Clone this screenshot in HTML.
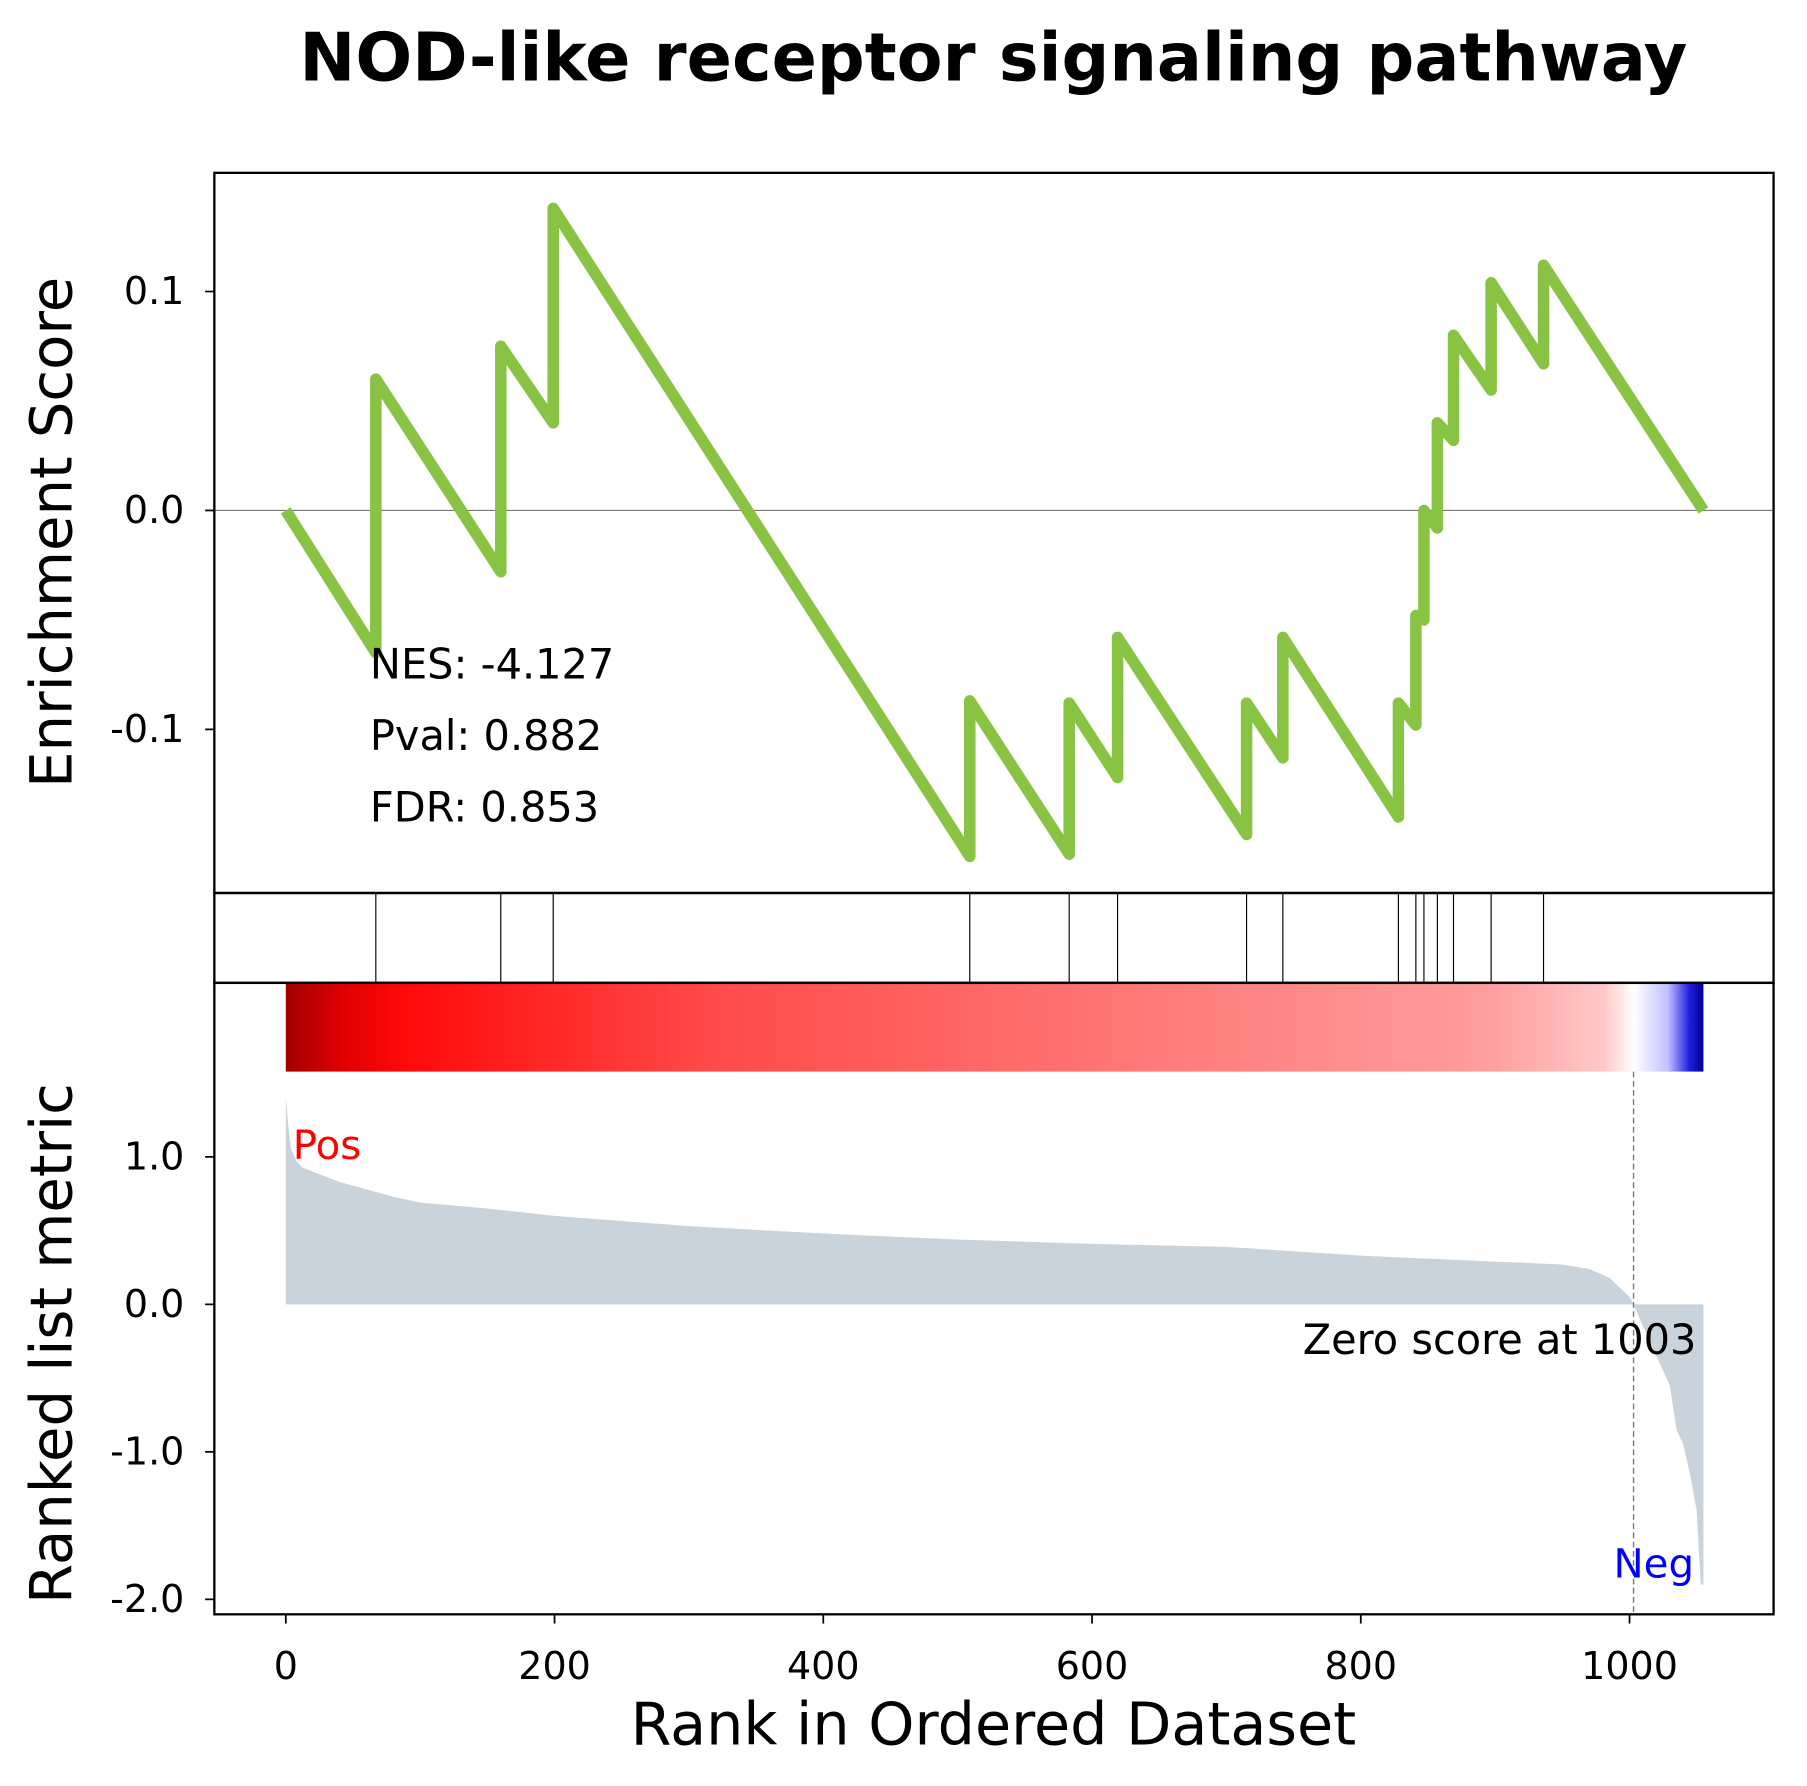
<!DOCTYPE html>
<html><head><meta charset="utf-8"><style>body{margin:0;background:#fff}svg{display:block}text{font-family:"DejaVu Sans","Liberation Sans",sans-serif}</style></head>
<body>
<svg id="chart" width="1807" height="1786" viewBox="0 0 1568 1550" preserveAspectRatio="none" xmlns="http://www.w3.org/2000/svg">
<defs>
<linearGradient id="cbar" x1="0" x2="1" y1="0" y2="0">
<stop offset="0" stop-color="#a00000"/><stop offset="0.04" stop-color="#e00000"/><stop offset="0.085" stop-color="#ff0a0a"/>
<stop offset="0.3" stop-color="#ff4a4a"/><stop offset="0.6" stop-color="#ff7878"/><stop offset="0.85" stop-color="#ff9e9e"/>
<stop offset="0.93" stop-color="#ffc8c8"/><stop offset="0.951" stop-color="#ffffff"/><stop offset="0.975" stop-color="#c0c0ff"/>
<stop offset="0.99" stop-color="#2020e0"/><stop offset="1" stop-color="#000090"/></linearGradient>
</defs>
<text x="862" y="70" font-size="58" font-weight="bold" text-anchor="middle">NOD-like receptor signaling pathway</text>
<g id="g"></g>
</svg>
<script>
const hitRanks=[67,160,199,509,583,619,715,742,828,841,847,857,869,897,936];
const esBefore=[-0.065,-0.028,0.04,-0.158,-0.157,-0.122,-0.148,-0.113,-0.14,-0.098,-0.05,-0.008,0.032,0.055,0.067];
const esAfter=[0.06,0.075,0.138,-0.087,-0.088,-0.058,-0.088,-0.058,-0.088,-0.048,0.0,0.04,0.08,0.104,0.112];
const nTotal=1055;
const metricRanks=[0,2,4,8,12,20,40,60,80,100,150,200,300,400,500,600,700,800,900,950,970,985,1000,1003,1010,1020,1030,1035,1040,1045,1050,1053,1055];
const metricValues=[1.4,1.2,1.05,0.97,0.93,0.9,0.83,0.78,0.73,0.69,0.65,0.6,0.53,0.48,0.44,0.41,0.39,0.33,0.29,0.27,0.24,0.18,0.05,0,-0.15,-0.35,-0.55,-0.85,-0.95,-1.15,-1.4,-1.9,-1.9];
const xTicks=[0,200,400,600,800,1000];
const esTicks=[0.1,0.0,-0.1];
const esTickLabels=["0.1","0.0","-0.1"];
const mTicks=[1,0,-1,-2];
const mTickLabels=["1.0","0.0","-1.0","-2.0"];
const statsLines=["NES: -4.127","Pval: 0.882","FDR: 0.853"];
const zeroRank=1003;

const X=r=>248+r*1.166;
const YE=v=>443-v*1900;
const YM=v=>1132-v*128;
const g=document.getElementById('g');
const NS='http://www.w3.org/2000/svg';
function mk(t,a,txt){const e=document.createElementNS(NS,t);for(const k in a)e.setAttribute(k,a[k]);if(txt!=null)e.textContent=txt;g.appendChild(e);return e;}

let d='M'+X(metricRanks[0])+','+YM(0);
metricRanks.forEach((r,i)=>{d+=' L'+X(r)+','+YM(metricValues[i]);});
d+=' L'+X(metricRanks[metricRanks.length-1])+','+YM(0)+' Z';
let e=mk('path',{d:d,fill:'#c9d3dc'});


e=mk('rect',{x:X(0),y:853,width:X(nTotal)-X(0),height:77,fill:'url(#cbar)'});


e=mk('line',{x1:186,x2:1539,y1:YE(0),y2:YE(0),stroke:'#777','stroke-width':1});


let p='M'+X(0)+','+YE(0);
hitRanks.forEach((r,i)=>{p+=' L'+X(r)+','+YE(esBefore[i])+' L'+X(r)+','+YE(esAfter[i]);});
p+=' L'+X(nTotal)+','+YE(0);
e=mk('path',{d:p,fill:'none',stroke:'#88c344','stroke-width':10,'stroke-linejoin':'round'});


hitRanks.forEach(r=>{const h=mk('line',{x1:X(r),x2:X(r),y1:775,y2:853,stroke:'#000','stroke-width':1});

});
e=mk('line',{x1:X(zeroRank),x2:X(zeroRank),y1:930,y2:1401,stroke:'#777','stroke-width':1.2,'stroke-dasharray':'5,3'});


[[150,775],[775,853],[853,1401]].forEach(([a,b])=>{const f=mk('rect',{x:186,y:a,width:1353,height:b-a,fill:'none',stroke:'#000','stroke-width':2});

});
xTicks.forEach(t=>{mk('line',{x1:X(t),x2:X(t),y1:1401,y2:1409,stroke:'#000','stroke-width':1.5});
const l=mk('text',{x:X(t),y:1457,'font-size':33,'text-anchor':'middle'},String(t));

});
esTicks.forEach((t,i)=>{mk('line',{x1:178,x2:186,y1:YE(t),y2:YE(t),stroke:'#000','stroke-width':1.5});
const l=mk('text',{x:160,y:YE(t)+11,'font-size':33,'text-anchor':'end'},esTickLabels[i]);

});
mTicks.forEach((t,i)=>{mk('line',{x1:178,x2:186,y1:YM(t),y2:YM(t),stroke:'#000','stroke-width':1.5});
const l=mk('text',{x:160,y:YM(t)+11,'font-size':33,'text-anchor':'end'},mTickLabels[i]);

});
statsLines.forEach((s,i)=>{const l=mk('text',{x:321,y:589+i*62,'font-size':36},s);

});
e=mk('text',{x:254,y:1006,'font-size':35,fill:'#ff0000'},'Pos');


e=mk('text',{x:1470,y:1369,'font-size':35,fill:'#0000ff','text-anchor':'end'},'Neg');


e=mk('text',{x:1472,y:1175,'font-size':36,'text-anchor':'end'},'Zero score at '+zeroRank);


e=mk('text',{x:862,y:1514,'font-size':51,'text-anchor':'middle'},'Rank in Ordered Dataset');


e=mk('text',{x:0,y:0,'font-size':50,'text-anchor':'middle',transform:'translate(62,462) rotate(-90)'},'Enrichment Score');


e=mk('text',{x:0,y:0,'font-size':50,'text-anchor':'middle',transform:'translate(62,1166) rotate(-90)'},'Ranked list metric');


</script>
</body></html>
